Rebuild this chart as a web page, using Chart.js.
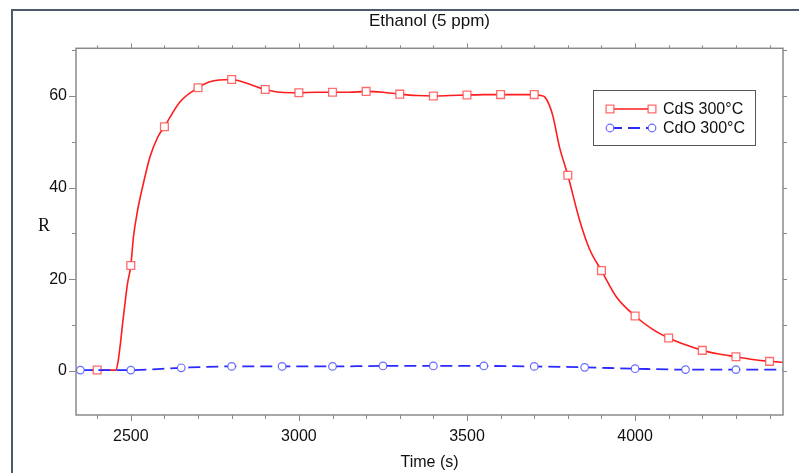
<!DOCTYPE html>
<html>
<head>
<meta charset="utf-8">
<script src="https://cdn.jsdelivr.net/npm/chart.js@4"></script>
<style>
html, body { margin: 0; padding: 0; background: #fff; }
#wrap { width: 799px; height: 473px; }
</style>
</head>
<body>
<div id="wrap"><canvas id="response"></canvas></div>
<script>
// CdS 300°C (markers every 100 s)
var cdsTime = [2383, 2400, 2455, 2462, 2478, 2490, 2500, 2508, 2520, 2533, 2557, 2580, 2600, 2646, 2700, 2735, 2800, 2835, 2900, 2944,
  3000, 3050, 3100, 3150, 3200, 3250, 3300, 3350, 3400, 3450, 3500, 3550, 3600, 3650, 3700, 3720, 3731, 3745, 3756, 3775,
  3800, 3835, 3865, 3900, 3944, 4000, 4050, 4100, 4150, 4200, 4250, 4300, 4350, 4400, 4440];
var cdsR = [0.2, 0.2, 0.2, 2, 11.8, 19, 23.0, 29.3, 35, 39.5, 46.7, 51, 53.3, 58.7, 61.8, 63.1, 63.6, 63.0, 61.4, 60.8,
  60.7, 60.8, 60.8, 60.8, 61.0, 60.8, 60.4, 60.1, 60.0, 60.1, 60.2, 60.3, 60.3, 60.3, 60.3, 60.1, 59.8, 58, 55.5, 48.9,
  42.7, 32.9, 26.5, 21.9, 16.2, 12.0, 9.2, 7.2, 5.7, 4.5, 3.7, 3.1, 2.5, 2.1, 1.9];
var cdsMarks = [2400, 2500, 2600, 2700, 2800, 2900, 3000, 3100, 3200, 3300, 3400, 3500, 3600, 3700, 3800, 3900, 4000, 4100, 4200, 4300, 4400];

// CdO 300°C (markers every 150 s)
var cdoTime = [2350, 2500, 2650, 2800, 2950, 3100, 3250, 3400, 3550, 3700, 3850, 4000, 4150, 4300, 4440];
var cdoR = [0.2, 0.2, 0.7, 1.0, 1.0, 1.0, 1.1, 1.1, 1.1, 1.0, 0.8, 0.5, 0.3, 0.3, 0.3];
var cdoMarks = [2350, 2500, 2650, 2800, 2950, 3100, 3250, 3400, 3550, 3700, 3850, 4000, 4150, 4300];

var xTicks = [2500, 3000, 3500, 4000];
var yTicks = [0, 20, 40, 60];

var FONT = '"Liberation Sans", Arial, sans-serif';
var AXIS = '#8a8a8a';

function pts(xs, ys) {
  return xs.map(function (x, i) { return { x: x, y: ys[i] }; });
}

// frame, title, axis box, minor/mirror ticks, "R" label and the legend box
var decor = {
  id: 'decor',
  afterDraw: function (chart) {
    var c = chart.ctx, a = chart.chartArea;
    var sx = chart.scales.x, sy = chart.scales.y;
    c.save();
    // outer frame (left + top only)
    c.strokeStyle = '#4d5a6a';
    c.lineWidth = 2;
    c.beginPath();
    c.moveTo(12, 473); c.lineTo(12, 10); c.lineTo(799, 10);
    c.stroke();

    c.fillStyle = '#111';
    c.font = '17px ' + FONT;
    c.textAlign = 'center';
    c.textBaseline = 'middle';
    c.fillText('Ethanol (5 ppm)', (a.left + a.right) / 2, 21);

    c.strokeStyle = AXIS;
    c.lineWidth = 1.5;
    c.strokeRect(a.left, a.top, a.right - a.left, a.bottom - a.top);

    c.lineWidth = 1;
    c.beginPath();
    for (var t = 2400; t <= 4400; t += 100) {
      var px = Math.round(sx.getPixelForValue(t)) + 0.5;
      var big = t % 500 === 0;
      c.moveTo(px, a.bottom); c.lineTo(px, a.bottom + (big ? 6 : 4));
      c.moveTo(px, a.top); c.lineTo(px, a.top - (big ? 5 : 3));
    }
    for (var v = 0; v <= 70; v += 10) {
      var py = Math.round(sy.getPixelForValue(v)) + 0.5;
      c.moveTo(a.left, py); c.lineTo(a.left - (v % 20 === 0 ? 7 : 4), py);
      c.moveTo(a.right, py); c.lineTo(a.right + 4, py);
    }
    c.stroke();

    c.fillStyle = '#111';
    c.font = '18px "Liberation Serif", "Times New Roman", serif';
    c.textAlign = 'center';
    c.textBaseline = 'middle';
    c.fillText('R', 44, 226);

    // legend
    c.fillStyle = '#fff';
    c.fillRect(593.5, 90.5, 162, 55);
    c.strokeStyle = '#555';
    c.lineWidth = 1;
    c.strokeRect(593.5, 90.5, 162, 55);
    var rows = [
      { y: 109, ds: chart.data.datasets[0], label: 'CdS 300°C' },
      { y: 128, ds: chart.data.datasets[1], label: 'CdO 300°C' }
    ];
    rows.forEach(function (r) {
      c.strokeStyle = r.ds.borderColor;
      c.lineWidth = r.ds.borderWidth;
      c.setLineDash(r.ds.borderDash || []);
      c.beginPath(); c.moveTo(610, r.y); c.lineTo(652, r.y); c.stroke();
      c.setLineDash([]);
      [610, 652].forEach(function (mx) {
        c.fillStyle = r.ds.pointBackgroundColor;
        c.strokeStyle = r.ds.pointBorderColor;
        c.lineWidth = r.ds.pointBorderWidth;
        c.beginPath();
        if (r.ds.pointStyle === 'rect') c.rect(mx - 3.9, r.y - 3.9, 7.8, 7.8);
        else c.arc(mx, r.y, 3.8, 0, Math.PI * 2);
        c.fill(); c.stroke();
      });
      c.fillStyle = '#111';
      c.font = '16px ' + FONT;
      c.textAlign = 'left';
      c.textBaseline = 'middle';
      c.fillText(r.label, 663, r.y + 0.5);
    });
    c.restore();
  }
};

new Chart(document.getElementById('response').getContext('2d'), {
  type: 'scatter',
  data: {
    datasets: [{
      label: 'CdS 300°C',
      data: pts(cdsTime, cdsR),
      showLine: true,
      borderColor: '#ff1c1c',
      borderWidth: 1.6,
      cubicInterpolationMode: 'monotone',
      pointStyle: 'rect',
      pointRadius: function (ctx) { return cdsMarks.indexOf(cdsTime[ctx.dataIndex]) >= 0 ? 5.5 : 0; },
      pointBorderColor: 'rgba(255,70,70,0.8)',
      pointBackgroundColor: '#ffffff',
      pointBorderWidth: 1.3,
      order: 1
    }, {
      label: 'CdO 300°C',
      data: pts(cdoTime, cdoR),
      showLine: true,
      borderColor: '#2a2aff',
      borderWidth: 1.8,
      borderDash: [12, 6],
      cubicInterpolationMode: 'monotone',
      pointStyle: 'circle',
      pointRadius: function (ctx) { return cdoMarks.indexOf(cdoTime[ctx.dataIndex]) >= 0 ? 3.8 : 0; },
      pointBorderColor: 'rgba(80,80,255,0.85)',
      pointBackgroundColor: '#ffffff',
      pointBorderWidth: 1.2,
      order: 0
    }]
  },
  options: {
    responsive: true,
    maintainAspectRatio: false,
    animation: false,
    layout: { padding: { left: 0, right: 16, top: 48.3, bottom: 0 } },
    plugins: {
      legend: { display: false },
      tooltip: { enabled: false },
      title: { display: false }
    },
    scales: {
      x: {
        type: 'linear',
        min: 2337,
        max: 4440,
        afterBuildTicks: function (s) { s.ticks = xTicks.map(function (v) { return { value: v }; }); },
        afterFit: function (s) { s.height = 58; },
        grid: { display: false, drawTicks: false },
        border: { display: false },
        ticks: {
          padding: 12, color: '#111', maxRotation: 0, autoSkip: false,
          font: { family: FONT, size: 16 },
          callback: function (v) { return String(v); }
        },
        title: {
          display: true, text: 'Time (s)', color: '#111',
          font: { family: FONT, size: 16 },
          padding: { top: 0, bottom: 1 }
        }
      },
      y: {
        min: -9.6,
        max: 70.4,
        afterBuildTicks: function (s) { s.ticks = yTicks.map(function (v) { return { value: v }; }); },
        afterFit: function (s) { s.width = 76; },
        grid: { display: false, drawTicks: false },
        border: { display: false },
        ticks: {
          padding: 9, color: '#111',
          font: { family: FONT, size: 16 },
          callback: function (v) { return String(v); }
        }
      }
    }
  },
  plugins: [decor]
});
</script>
</body>
</html>
